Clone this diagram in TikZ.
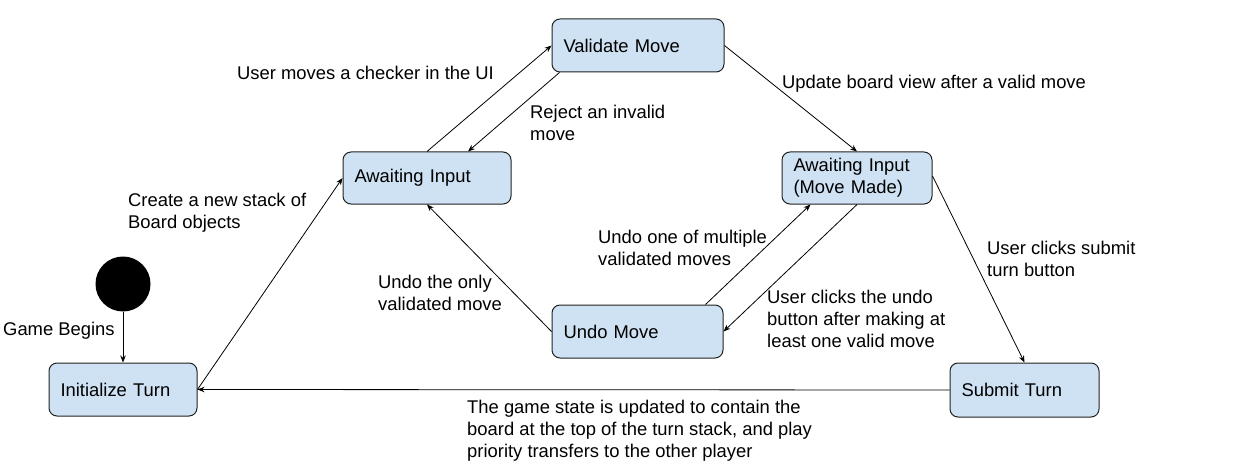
\documentclass[tikz,border=0pt]{standalone}
\usepackage{fontspec}
\setmainfont{Liberation Sans}
\usetikzlibrary{arrows.meta,calc}
\definecolor{stfill}{HTML}{CFE2F3}
\definecolor{stline}{HTML}{222222}
\begin{document}
\begin{tikzpicture}[x=1pt,y=-1pt,
  font=\fontsize{18.4}{22}\selectfont,
  state/.style={draw=stline, fill=stfill, rounded corners=8pt, line width=1pt,
    inner xsep=11.5pt, inner ysep=0pt, minimum height=53pt, align=left},
  lbl/.style={anchor=west, inner sep=0pt, align=left},
  conn/.style={draw=black, line width=0.8pt, -{Stealth[length=7pt,width=5.5pt]}}]
\useasboundingbox (0,0) rectangle (1258,476);
% states
\node[state, text width=125pt] (init) at (123,389.5) {Initialize Turn};
\node[state, text width=145pt, minimum height=52pt] (ai) at (427,178) {Awaiting Input};
\node[state, text width=149pt] (vm) at (638,45.5) {Validate Move};
\node[state, text width=127pt, minimum height=52pt] (aimm) at (857,178) {Awaiting Input\\(Move Made)};
\node[state, text width=148pt] (um) at (637.5,331.5) {Undo Move};
\node[state, text width=126pt, minimum height=54pt] (st) at (1024.5,390) {Submit Turn};
\node[circle, fill=black, minimum size=55pt, inner sep=0pt] (start) at (123,284) {};
% connectors
\draw[conn] (start.south) -- (init.north);
\draw[conn] (init.east) -- (ai.west);
\draw[conn] (ai.north) -- (vm.west);
\draw[conn] ([xshift=8pt]vm.south west) -- ([xshift=41pt]ai.north);
\draw[conn] (vm.east) -- (aimm.north);
\draw[conn] ([yshift=2pt]aimm.east) -- (st.north);
\draw[conn] (aimm.south) -- (um.east);
\draw[conn] ([xshift=-18pt]um.north east) -- ([xshift=29pt]aimm.south west);
\draw[conn] (um.west) -- (ai.south);
\draw[conn] (st.west) -- (init.east);
% labels
\node[lbl] (l1) at (3,331) {Game Begins};
\node[lbl] (l2) at (128,213) {Create a new stack of\\Board objects};
\node[lbl] (l3) at (237,73) {User moves a checker in the UI};
\node[lbl] (l4) at (530,123) {Reject an invalid\\move};
\node[lbl] (l5) at (782,84) {Update board view after a valid move};
\node[lbl] (l6) at (987,258.5) {User clicks submit\\turn button};
\node[lbl] (l7) at (598,247.5) {Undo one of multiple\\validated moves};
\node[lbl] (l8) at (767,319) {User clicks the undo\\button after making at\\least one valid move};
\node[lbl] (l9) at (378,292.5) {Undo the only\\validated move};
\node[lbl] (l10) at (467,431) {The game state is updated to contain the\\board at the top of the turn stack, and play\\priority transfers to the other player};
\end{tikzpicture}
\end{document}
